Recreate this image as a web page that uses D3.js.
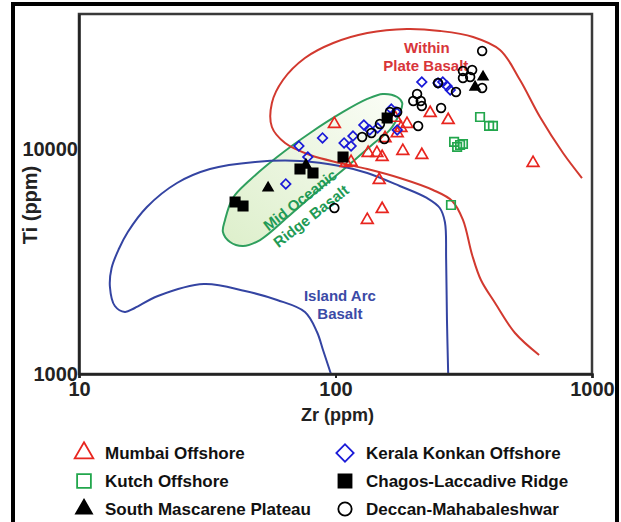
<!DOCTYPE html>
<html>
<head>
<meta charset="utf-8">
<script src="https://cdn.jsdelivr.net/npm/d3@7"></script>
<style>
  body { margin: 0; background: #fff; }
  svg { display: block; font-family: "Liberation Sans", Arial, sans-serif; font-weight: bold; }
</style>
</head>
<body>
<svg id="chart" width="621" height="522"></svg>
<script>
// tick values
const zrTicks = [10, 100, 1000];
const tiTicks = [1000, 10000];

// samples, [Zr, Ti] in ppm
const mumbai = [[99, 12960], [234, 14500], [275, 13500], [171, 13800], [190, 12960], [180, 12440],
  [174, 11800], [156, 11200], [134, 9630], [145, 9630], [152, 9240], [183, 9830], [217, 9430],
  [110, 8690], [115, 8780], [148, 7300], [152, 5420], [133, 4850], [589, 8690]];
const kutch = [[366, 13920], [397, 12700], [411, 12700], [290, 10780], [298, 10240], [306, 10450],
  [314, 10560], [282, 5650]];
const southMascarene = [[54.6, 6730], [76.7, 8510], [376, 20980], [350, 18930]];
const keralaKonkan = [[72, 10340], [78, 9240], [89, 11230], [64, 7010], [108, 10670], [117, 11460],
  [115, 10340], [129, 12830], [136, 12190], [146, 12440], [165, 15110], [172, 14660], [174, 12190],
  [217, 19930], [251, 19730], [262, 19930], [272, 19120], [280, 18360]];
const chagos = [[40.6, 5830], [43.6, 5590], [72.7, 8170], [81.7, 7840], [107, 9240], [159, 13780]];
const deccan = [[373, 27390], [314, 22310], [341, 22540], [314, 20770], [335, 20980], [373, 18740],
  [251, 19730], [295, 17990], [208, 17630], [201, 16400], [215, 16400], [217, 15580], [258, 15270],
  [163, 14660], [174, 14660], [149, 12960], [210, 12700], [138, 11820], [127, 11340], [155, 11110],
  [99, 5480]];

// discrimination field boundaries, [Zr, Ti]
const islandArc = [[96, 1000], [89.4, 1279], [84.7, 1538], [76, 1888], [59.2, 2135], [44.4, 2341],
  [30.7, 2515], [20.3, 2224], [16.5, 1967], [15.1, 1888], [13.8, 2007], [13.2, 2439], [13.4, 2963],
  [14.3, 3600], [15.5, 4285], [18.4, 5537], [24.1, 7080], [32.4, 8170], [48.6, 8780], [72.7, 8870],
  [104, 8430], [133, 7840], [178, 6866], [227, 6072], [255, 5480], [267, 4748], [270, 3216],
  [272, 1739], [275, 1000]];
const withinPlate = [[914, 7450], [771, 9630], [627, 13920], [524, 20340], [438, 27670], [344, 31610],
  [256, 33610], [190, 34310], [133, 32930], [98, 29720], [76, 25480], [62.4, 20340], [56.5, 16080],
  [56.5, 12570], [63.6, 10670], [79.6, 9430], [104, 8690], [133, 8170], [178, 7450], [240, 6590],
  [285, 5890], [314, 4850], [341, 3385], [369, 2620], [419, 2070], [501, 1522], [622, 1215]];
const morb = [[37.1, 4850], [36.4, 4285], [38.8, 3868], [43.6, 3712], [50.8, 3947], [66.5, 5101],
  [87, 6660], [114, 8600], [140, 10560], [163, 12190], [178, 14510], [182, 16080], [174, 17090],
  [153, 17630], [133, 16750], [107, 14660], [79.6, 11820], [59.2, 9240], [46.4, 7300], [39.8, 6072]];

// field names, [Zr, Ti] of the text centre
const fieldLabels = [
  { text: 'Within', pos: [227, 28240], color: '#d8353a', angle: 0 },
  { text: 'Plate Basalt', pos: [225, 23480], color: '#d8353a', angle: 0 },
  { text: 'Island Arc', pos: [104, 2224], color: '#3b4aa6', angle: 0 },
  { text: 'Basalt', pos: [104, 1849], color: '#3b4aa6', angle: 0 },
  { text: 'Mid Oceanic', pos: [72.7, 5950], color: '#1f9a55', angle: -38 },
  { text: 'Ridge Basalt', pos: [80.2, 5050], color: '#1f9a55', angle: -38 }
];

const svg = d3.select('#chart');
const margin = { top: 14, right: 29, bottom: 148, left: 79 };
const width = +svg.attr('width') - margin.left - margin.right;
const height = +svg.attr('height') - margin.top - margin.bottom;

// outer figure border (open at the bottom)
svg.append('path')
  .attr('d', 'M13,522V4H617V522')
  .attr('fill', 'none')
  .attr('stroke', '#000')
  .attr('stroke-width', 4);

const g = svg.append('g').attr('transform', `translate(${margin.left},${margin.top})`);

const x = d3.scaleLog().domain([10, 1000]).range([0, width]);
const y = d3.scaleLog().domain([1000, 40000]).range([height, 0]);

const curve = d3.line()
  .curve(d3.curveCatmullRom.alpha(0.5))
  .x(d => x(d[0]))
  .y(d => y(d[1]));
const closedCurve = d3.line()
  .curve(d3.curveCatmullRomClosed.alpha(0.5))
  .x(d => x(d[0]))
  .y(d => y(d[1]));

// green fill for the MORB field
const grad = svg.append('defs').append('linearGradient')
  .attr('id', 'morbFill')
  .attr('x1', 0).attr('y1', 1).attr('x2', 1).attr('y2', 0);
grad.append('stop').attr('offset', '0%').attr('stop-color', '#ddefcb');
grad.append('stop').attr('offset', '100%').attr('stop-color', '#fbfdf7');

g.append('path')
  .attr('d', closedCurve(morb))
  .attr('fill', 'url(#morbFill)')
  .attr('stroke', '#2f9f5e')
  .attr('stroke-width', 2);

g.append('path')
  .attr('d', curve(islandArc))
  .attr('fill', 'none')
  .attr('stroke', '#3444a2')
  .attr('stroke-width', 2);

g.append('path')
  .attr('d', curve(withinPlate))
  .attr('fill', 'none')
  .attr('stroke', '#d2392f')
  .attr('stroke-width', 2);

// field names
g.selectAll('.field-label')
  .data(fieldLabels)
  .enter()
  .append('text')
  .attr('class', 'field-label')
  .attr('transform', d => `translate(${x(d.pos[0])},${y(d.pos[1])}) rotate(${d.angle})`)
  .attr('text-anchor', 'middle')
  .attr('dy', '0.36em')
  .attr('fill', d => d.color)
  .style('font-size', '15px')
  .text(d => d.text);

// frame and axes
g.append('rect')
  .attr('width', width)
  .attr('height', height)
  .attr('fill', 'none')
  .attr('stroke', '#3a3a3a')
  .attr('stroke-width', 2.5);

const xAxis = g.append('g')
  .attr('transform', `translate(0,${height})`)
  .call(d3.axisBottom(x).tickValues(zrTicks).tickFormat(d3.format('d')).tickSize(4).tickPadding(4));
const yAxis = g.append('g')
  .call(d3.axisLeft(y).tickValues(tiTicks).tickFormat(d3.format('d')).tickSize(0).tickPadding(1));

[xAxis, yAxis].forEach(a => {
  a.select('.domain').attr('stroke', '#222').attr('stroke-width', 2.5);
  a.selectAll('.tick line').attr('stroke', '#222').attr('stroke-width', 2);
  a.selectAll('.tick text')
    .attr('fill', '#222')
    .style('font-family', '"Liberation Sans", Arial, sans-serif')
    .style('font-weight', 'bold')
    .style('font-size', '20px');
});
yAxis.selectAll('.tick text').attr('dy', '0.3em');

g.append('text')
  .attr('x', width / 2 + 2)
  .attr('y', height + 47)
  .attr('text-anchor', 'middle')
  .attr('fill', '#222')
  .style('font-size', '18px')
  .text('Zr (ppm)');

g.append('text')
  .attr('transform', `translate(${37 - margin.left},${205 - margin.top}) rotate(-90)`)
  .attr('text-anchor', 'middle')
  .attr('fill', '#222')
  .style('font-size', '20px')
  .text('Ti (ppm)');

// sample groups
const groups = [
  { name: 'Mumbai Offshore', data: mumbai, type: d3.symbolTriangle, size: 60, legendSize: 150,
    fill: 'none', stroke: '#e8251f', rot: 0, col: 0, row: 0 },
  { name: 'Kutch Offshore', data: kutch, type: d3.symbolSquare, size: 72, legendSize: 190,
    fill: 'none', stroke: '#22a64c', rot: 0, col: 0, row: 1 },
  { name: 'South Mascarene Plateau', data: southMascarene, type: d3.symbolTriangle, size: 40, legendSize: 110,
    fill: '#000', stroke: '#000', rot: 0, col: 0, row: 2 },
  { name: 'Kerala Konkan Offshore', data: keralaKonkan, type: d3.symbolSquare, size: 46, legendSize: 150,
    fill: 'none', stroke: '#1a1ad8', rot: 45, col: 1, row: 0 },
  { name: 'Chagos-Laccadive Ridge', data: chagos, type: d3.symbolSquare, size: 88, legendSize: 170,
    fill: '#000', stroke: '#000', rot: 0, col: 1, row: 1 },
  { name: 'Deccan-Mahabaleshwar', data: deccan, type: d3.symbolCircle, size: 60, legendSize: 140,
    fill: 'none', stroke: '#000', rot: 0, col: 1, row: 2 }
];

const drawOrder = [0, 1, 3, 5, 4, 2];
drawOrder.forEach(i => {
  const s = groups[i];
  g.append('g')
    .selectAll('path')
    .data(s.data)
    .enter()
    .append('path')
    .attr('d', d3.symbol().type(s.type).size(s.size))
    .attr('transform', d => `translate(${x(d[0])},${y(d[1])}) rotate(${s.rot})`)
    .attr('fill', s.fill)
    .attr('stroke', s.stroke)
    .attr('stroke-width', 1.7);
});

// legend
const legendX = [84, 345];
const legendY = [453, 481, 509];
const legend = svg.selectAll('.legend')
  .data(groups)
  .enter()
  .append('g')
  .attr('class', 'legend')
  .attr('transform', d => `translate(${legendX[d.col]},${legendY[d.row]})`);

legend.append('path')
  .attr('d', d => d3.symbol().type(d.type).size(d.legendSize)())
  .attr('transform', d => `rotate(${d.rot})`)
  .attr('fill', d => d.fill)
  .attr('stroke', d => d.stroke)
  .attr('stroke-width', 1.8);

legend.append('text')
  .attr('x', 21)
  .attr('dy', '0.36em')
  .attr('fill', '#111')
  .style('font-size', '17px')
  .text(d => d.name);
</script>
</body>
</html>
